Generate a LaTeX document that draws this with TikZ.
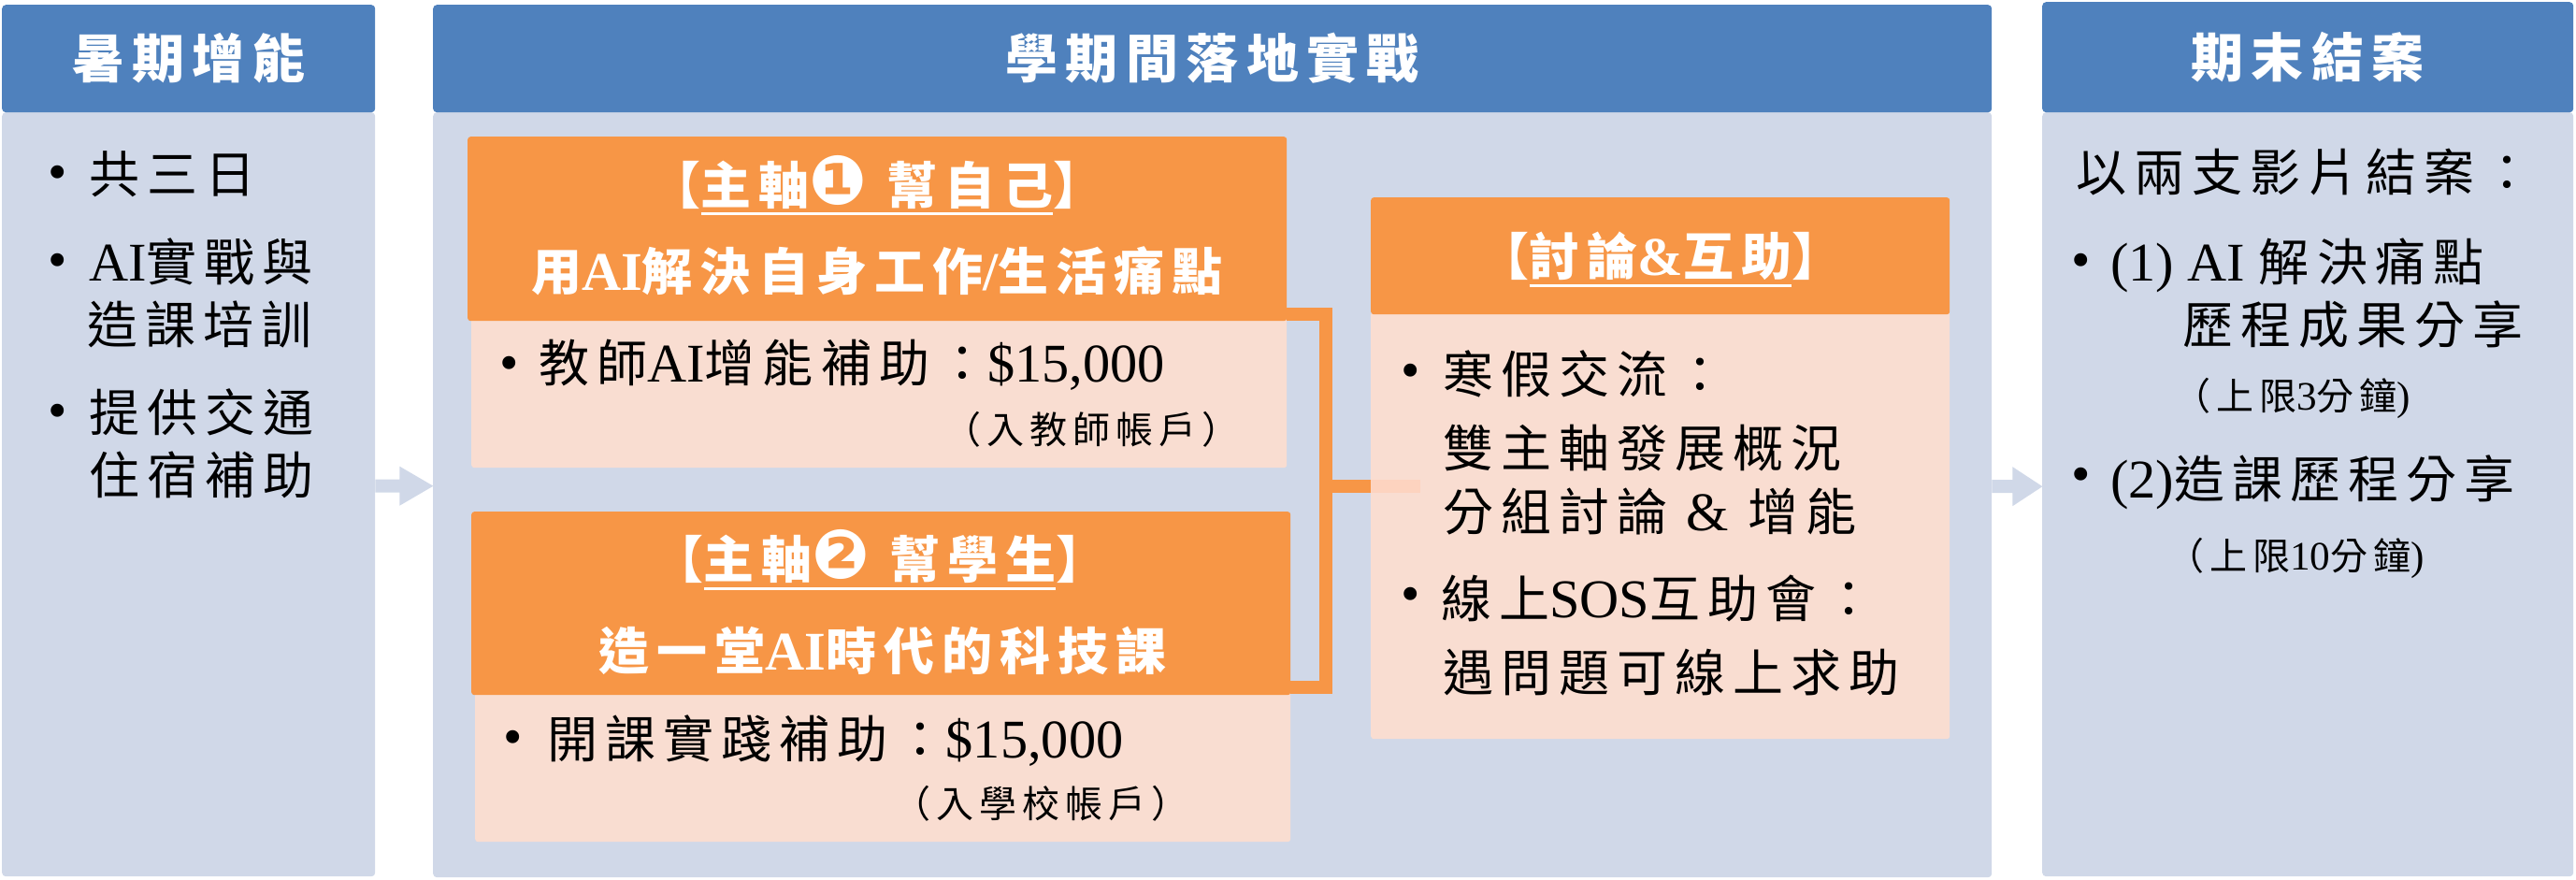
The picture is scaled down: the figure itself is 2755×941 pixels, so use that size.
\documentclass[tikz,border=0pt]{standalone}
\usepackage{fontspec}
\setmainfont{Noto Sans CJK TC}[LetterSpace=15]
\newfontfamily\latin{Liberation Serif}[Scale=1.08]
\newfontfamily\dings{DejaVu Sans}[Scale=1.35]
\newcommand\lat[1]{{\latin #1}}
\newcommand\ulbar[1]{\sbox0{#1}\rlap{\rule[-12pt]{\wd0}{3pt}}\usebox0}
\definecolor{phaseblue}{HTML}{4F81BD}
\definecolor{phaselav}{HTML}{D0D8E8}
\definecolor{taskorange}{HTML}{F79646}
\definecolor{taskpink}{HTML}{F9DDD1}
\definecolor{linkfade}{HTML}{FDD3BF}
\tikzset{
  phasehead/.style={fill=phaseblue, text=white, rounded corners=4pt, anchor=north west, inner sep=0pt,
    font=\fontsize{56}{60}\selectfont\bfseries, text height=46.5pt, text depth=3.9pt},
  phasebody/.style={fill=phaselav, rounded corners=4pt, anchor=north west, inner sep=0pt},
  taskhead/.style={fill=taskorange, rounded corners=3pt, anchor=north west, inner sep=0pt},
  taskbody/.style={fill=taskpink, rounded corners=3pt, anchor=north west, inner sep=0pt},
  tasktitle/.style={text=white, inner sep=0pt, font=\fontsize{54}{60}\selectfont\bfseries,
    text height=44.8pt, text depth=3.8pt},
  itemline/.style={anchor=west, inner sep=0pt, font=\fontsize{54}{60}\selectfont,
    text height=44.8pt, text depth=3.8pt},
  itemnote/.style={anchor=west, inner sep=0pt, font=\fontsize{40}{44}\selectfont,
    text height=33.2pt, text depth=2.8pt},
  itemdot/.style={inner sep=0pt, font=\fontsize{54}{60}\selectfont, yshift=-4pt},
  bracketlink/.style={draw=taskorange, line width=14pt},
  flowarrow/.style={fill=phaselav}
}
\begin{document}
\begin{tikzpicture}[x=1pt, y=-1pt]
\useasboundingbox (0,0) rectangle (2755,941);

\node[phasebody, minimum width=399pt, minimum height=817pt] (sbody) at (2,120) {};
\node[phasehead, minimum width=399pt, minimum height=115pt] (shead) at (2,5) {暑期增能};
\node[phasebody, minimum width=1667pt, minimum height=818pt] (mbody) at (463,120) {};
\node[phasehead, minimum width=1667pt, minimum height=115pt] (mhead) at (463,5) {學期間落地實戰};
\node[phasebody, minimum width=568pt, minimum height=817pt] (ebody) at (2184,120) {};
\node[phasehead, minimum width=568pt, minimum height=118pt] (ehead) at (2184,2) {期末結案};

\fill[flowarrow] ([yshift=9pt]sbody.east) ++(0,-7) -- ++(26,0) -- ++(0,-14) -- ++(36,21)
  -- ++(-36,21) -- ++(0,-14) -- ++(-26,0) -- cycle;
\fill[flowarrow] ([yshift=9pt]mbody.east) ++(0,-7) -- ++(22,0) -- ++(0,-14) -- ++(32,21)
  -- ++(-32,21) -- ++(0,-14) -- ++(-22,0) -- cycle;

\node[itemdot] (s1dot) at (62,186) {\lat{•}};
\node[itemline] (s1) at (95,186) {共三日};
\node[itemdot] (s2dot) at (62,280) {\lat{•}};
\node[itemline] (s2a) at (95,280) {\lat{AI}實戰與};
\node[itemline] (s2b) at (93,347) {造課培訓};
\node[itemdot] (s3dot) at (62,441) {\lat{•}};
\node[itemline] (s3a) at (95,441) {提供交通};
\node[itemline] (s3b) at (95,508) {住宿補助};

\node[taskbody, minimum width=872pt, minimum height=160pt] (t1body) at (504,340) {};
\node[taskhead, minimum width=876pt, minimum height=197pt] (t1head) at (500,146) {};
\node[tasktitle] (t1a) at (938,198) {【\ulbar{主軸{\dings ❶} 幫自己}】};
\node[tasktitle] (t1b) at (938,290) {用\lat{AI}解決自身工作\lat{/}生活痛點};
\node[itemdot] (t1dot) at (545,390) {\lat{•}};
\node[itemline] (t1txt) at (576,388) {教師\lat{AI}增能補助：\lat{\$15,000}};
\node[itemnote] (t1note) at (1009,459) {（入教師帳戶）};

\node[taskbody, minimum width=872pt, minimum height=160pt] (t2body) at (508,740) {};
\node[taskhead, minimum width=876pt, minimum height=196pt] (t2head) at (504,547) {};
\node[tasktitle] (t2a) at (941,598) {【\ulbar{主軸{\dings ❷} 幫學生}】};
\node[tasktitle] (t2b) at (944,696) {造一堂\lat{AI}時代的科技課};
\node[itemdot] (t2dot) at (549,790) {\lat{•}};
\node[itemline] (t2txt) at (585,790) {開課實踐補助：\lat{\$15,000}};
\node[itemnote] (t2note) at (955,859) {（入學校帳戶）};

\node[taskbody, minimum width=619pt, minimum height=457pt] (dbody) at (1466,333) {};
\node[taskhead, minimum width=619pt, minimum height=125pt] (dhead) at (1466,211) {};
\node[tasktitle] (dtitle) at (1776,274) {【\ulbar{討論\lat{\&}互助}】};
\node[itemdot] (d1dot) at (1509,398) {\lat{•}};
\node[itemline] (d1a) at (1543,400) {寒假交流：};
\node[itemline] (d1b) at (1543,479) {雙主軸發展概況};
\node[itemline] (d1c) at (1543,547) {分組討論 \lat{\&} 增能};
\node[itemdot] (d2dot) at (1509,637) {\lat{•}};
\node[itemline] (d2a) at (1541,640) {線上\lat{SOS}互助會：};
\node[itemline] (d2b) at (1543,719) {遇問題可線上求助};

\coordinate (bar) at (1418,520);
\draw[bracketlink] ([yshift=7pt]t1head.south east) -| (bar) |- ([yshift=8pt]t2head.south east);
\draw[bracketlink] (bar) -- (dbody.west |- bar);
\draw[bracketlink, draw=linkfade] (dbody.west |- bar) -- ++(53,0);

\node[itemline] (e0) at (2220,184) {以兩支影片結案：};
\node[itemdot] (e1dot) at (2226,280) {\lat{•}};
\node[itemline] (e1a) at (2257,280) {\lat{(1) AI }解決痛點};
\node[itemline] (e1b) at (2334,347) {歷程成果分享};
\node[itemnote] (e1note) at (2324,423) {（上限\lat{3}分鐘\lat{)}};
\node[itemdot] (e2dot) at (2226,509) {\lat{•}};
\node[itemline] (e2a) at (2257,512) {\lat{(2)}造課歷程分享};
\node[itemnote] (e2note) at (2317,594) {（上限\lat{10}分鐘\lat{)}};
\end{tikzpicture}
\end{document}
